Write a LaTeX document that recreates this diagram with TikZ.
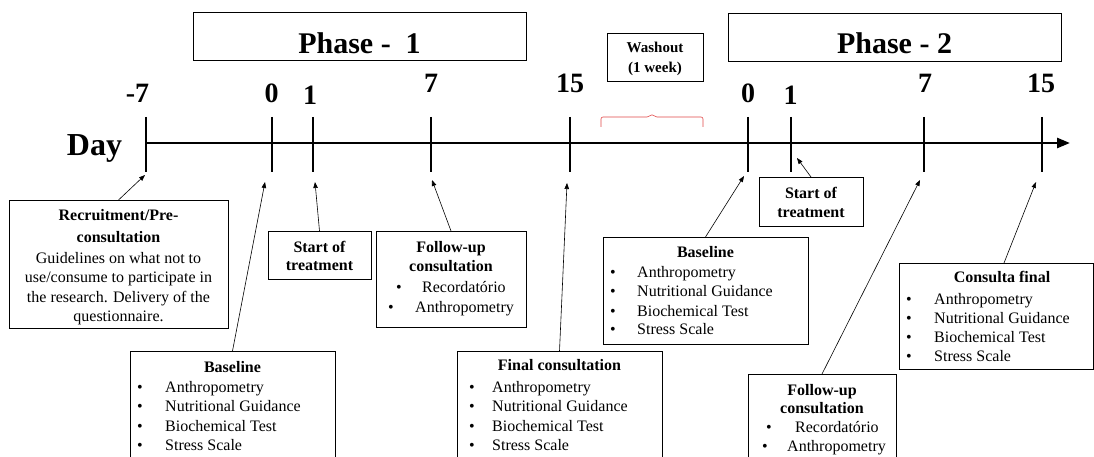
\documentclass[tikz,border=0pt]{standalone}
\usepackage{fontspec}
\setmainfont{Liberation Serif}
\usetikzlibrary{arrows.meta}
\tikzset{
  box/.style={draw=black, line width=0.9pt, inner sep=0pt, outer sep=0pt, anchor=north west},
  tickline/.style={line width=2.6pt},
  axisline/.style={line width=2.6pt, -{Triangle[length=13pt,width=10pt]}},
  conn/.style={line width=0.6pt, -{Triangle[length=6pt,width=4.5pt]}},
  daynum/.style={font=\fontsize{28}{32}\selectfont\bfseries, inner sep=0pt, anchor=base},
  body/.style={font=\fontsize{16}{19}\selectfont, inner sep=0pt},
  head/.style={font=\fontsize{16}{19}\selectfont\bfseries, inner sep=0pt, anchor=base},
  phasetxt/.style={font=\fontsize{30}{34}\selectfont\bfseries, inner sep=0pt, anchor=base},
  washtxt/.style={font=\fontsize{15}{18}\selectfont\bfseries, inner sep=0pt, anchor=base},
  bracepath/.style={draw={rgb,255:red,225;green,70;blue,70}, line width=0.6pt, rounded corners=2pt},
}
\newcommand\bitem[5]{%
  \node[body,anchor=base] (#1b) at (#2,#3) {\textbullet};
  \node[body,anchor=base west] (#1) at (#4,#3) {#5};}
\begin{document}
\begin{tikzpicture}[x=1pt,y=-1pt]
\useasboundingbox (0,0) rectangle (1094,457);
\clip (0,0) rectangle (1094,457);

% phase boxes
\node[box, minimum width=333pt, minimum height=48pt] (ph1) at (193,12) {};
\node[phasetxt] (ph1t) at (359.5,54) {Phase -\ \ 1};
\node[box, minimum width=333pt, minimum height=48pt] (ph2) at (728,13) {};
\node[phasetxt] (ph2t) at (894.5,54) {Phase - 2};

% washout
\node[box, minimum width=96pt, minimum height=48pt] (wash) at (607,33) {};
\node[washtxt] (wash1) at (655,53) {Washout};
\node[washtxt] (wash2) at (655,73) {(1 week)};
\draw[bracepath] (601,127) -- (601,117) -- (649,117) -- (652,114) -- (655,117) -- (703,117) -- (703,127);

% axis
\node[font=\fontsize{32}{36}\selectfont\bfseries, inner sep=0pt, anchor=base] (day) at (94.5,156) {Day};
\coordinate (ax0) at (145,143);
\coordinate (axend) at (1070,143);
\draw[axisline] (ax0) -- (axend);
\foreach \n/\x in {m7/146, a0/272, a1/313, a7/431, a15/570, b0/748, b1/791, b7/924, b15/1042} {
  \coordinate (t\n u) at (\x,117);
  \coordinate (t\n d) at (\x,172);
  \draw[tickline] (t\n u) -- (t\n d);
}
\node[daynum] (lm7) at (137.5,103) {-7};
\node[daynum] (la0) at (271.5,103) {0};
\node[daynum] (la1) at (310,105) {1};
\node[daynum] (la7) at (431,93) {7};
\node[daynum] (la15) at (570,93) {15};
\node[daynum] (lb0) at (748,103) {0};
\node[daynum] (lb1) at (790.5,105) {1};
\node[daynum] (lb7) at (925,93) {7};
\node[daynum] (lb15) at (1041,93) {15};

% recruitment
\node[box, minimum width=219pt, minimum height=128pt] (rec) at (9,200) {};
\node[head] (rec1) at (118.5,220.5) {Recruitment/Pre-};
\node[head] (rec2) at (118.5,242.5) {consultation};
\node[body,anchor=base] (rec3) at (118.5,263.5) {Guidelines on what not to};
\node[body,anchor=base] (rec4) at (118.5,282.5) {use/consume to participate in};
\node[body,anchor=base] (rec5) at (118.5,302.5) {the research. Delivery of the};
\node[body,anchor=base] (rec6) at (118.5,321.5) {questionnaire.};

% start of treatment 1
\node[box, minimum width=103pt, minimum height=48pt] (st1) at (268,231) {};
\node[head] (st1a) at (319.5,252.5) {Start of};
\node[head] (st1b) at (319.5,270.5) {treatment};

% baseline 1
\node[box, minimum width=205pt, minimum height=130pt] (bs1) at (130,351) {};
\node[head] (bs1t) at (232.5,372.5) {Baseline};
\bitem{bs1i1}{140}{392.5}{165}{Anthropometry}
\bitem{bs1i2}{140}{411.5}{165}{Nutritional Guidance}
\bitem{bs1i3}{140}{431.5}{165}{Biochemical Test}
\bitem{bs1i4}{140}{450.5}{165}{Stress Scale}

% follow-up 1
\node[box, minimum width=150pt, minimum height=96pt] (fu1) at (376,231) {};
\node[head] (fu1a) at (451,252.5) {Follow-up};
\node[head] (fu1c) at (451,271.5) {consultation};
\bitem{fu1i1}{399}{292.5}{422}{Recordatório}
\bitem{fu1i2}{391}{312.5}{415}{Anthropometry}

% final consultation 1
\node[box, minimum width=205pt, minimum height=130pt] (fn1) at (457,351) {};
\node[head] (fn1t) at (559.5,370.5) {Final consultation};
\bitem{fn1i1}{472}{392.5}{492}{Anthropometry}
\bitem{fn1i2}{472}{411.5}{492}{Nutritional Guidance}
\bitem{fn1i3}{472}{431.5}{492}{Biochemical Test}
\bitem{fn1i4}{472}{450.5}{492}{Stress Scale}

% baseline 2
\node[box, minimum width=205pt, minimum height=107pt] (bs2) at (603,237) {};
\node[head] (bs2t) at (705.5,257.5) {Baseline};
\bitem{bs2i1}{613}{277.5}{637}{Anthropometry}
\bitem{bs2i2}{613}{296.5}{637}{Nutritional Guidance}
\bitem{bs2i3}{613}{316.5}{637}{Biochemical Test}
\bitem{bs2i4}{613}{334.5}{637}{Stress Scale}

% start of treatment 2
\node[box, minimum width=104pt, minimum height=49pt] (st2) at (759,177) {};
\node[head] (st2a) at (811,198.5) {Start of};
\node[head] (st2b) at (811,217.5) {treatment};

% follow-up 2
\node[box, minimum width=148pt, minimum height=100pt] (fu2) at (748,374) {};
\node[head] (fu2a) at (822,395.5) {Follow-up};
\node[head] (fu2c) at (822,413.5) {consultation};
\bitem{fu2i1}{769}{432.5}{795}{Recordatório}
\bitem{fu2i2}{765}{451.5}{787}{Anthropometry}

% consulta final
\node[box, minimum width=194pt, minimum height=106pt] (cf) at (899,263) {};
\node[head] (cft) at (1002,282.5) {Consulta final};
\bitem{cfi1}{909}{304.5}{934}{Anthropometry}
\bitem{cfi2}{909}{323.5}{934}{Nutritional Guidance}
\bitem{cfi3}{909}{342.5}{934}{Biochemical Test}
\bitem{cfi4}{909}{361.5}{934}{Stress Scale}

% arrow tips
\coordinate (p1) at (145,175);
\coordinate (p2) at (315,182);
\coordinate (p3) at (265,182);
\coordinate (p4) at (432,180);
\coordinate (p5) at (567,183);
\coordinate (p6) at (744,176);
\coordinate (p7) at (797,158);
\coordinate (p8) at (920,180);
\coordinate (p9) at (1036,182);

\draw[conn] (rec.north) -- (p1);
\draw[conn] (st1.north) -- (p2);
\draw[conn] (bs1.north) -- (p3);
\draw[conn] (fu1.north) -- (p4);
\draw[conn] (fn1.north) -- (p5);
\draw[conn] (bs2.north) -- (p6);
\draw[conn] (st2.north) -- (p7);
\draw[conn] (fu2.north) -- (p8);
\draw[conn] ([xshift=8pt]cf.north) -- (p9);
\end{tikzpicture}
\end{document}
